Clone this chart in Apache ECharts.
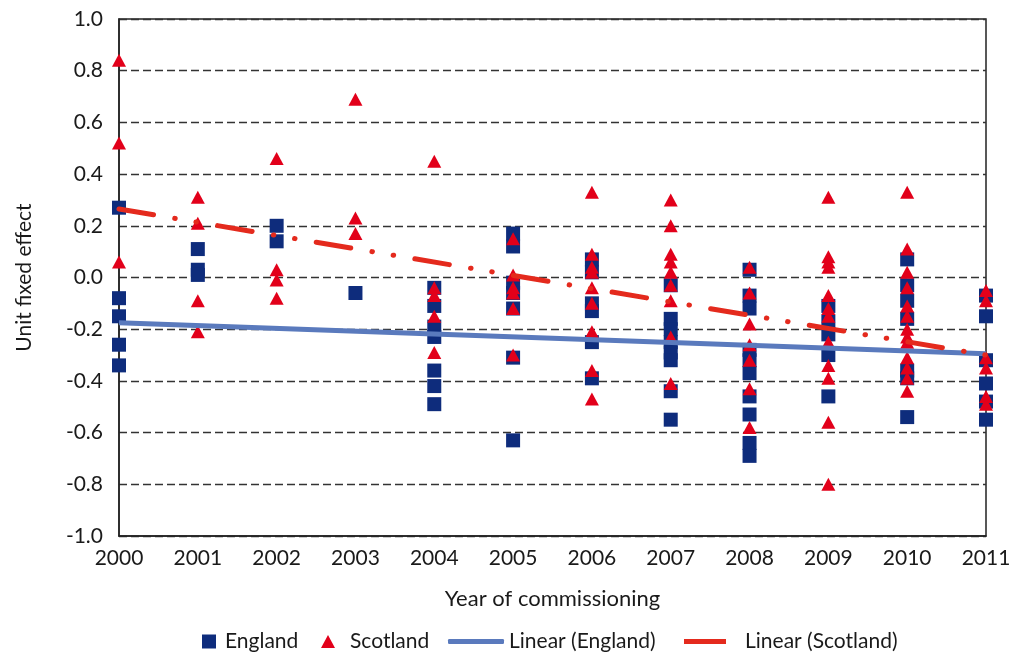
<!DOCTYPE html>
<html>
<head>
	<meta charset="utf-8">
	<title>Unit fixed effect by year of commissioning</title>
	<script src="https://cdn.jsdelivr.net/npm/echarts@6/dist/echarts.min.js"></script>
	<style type="text/css">
		html, body { margin: 0; padding: 0; background: #ffffff; }
		#chart { width: 1014px; height: 655px; }
	</style>
</head>
<body>
	<div id="chart"></div>
	<script type="text/javascript">
		// year of commissioning (x categories, plotted on a value axis)
		var years = [2000, 2001, 2002, 2003, 2004, 2005, 2006, 2007, 2008, 2009, 2010, 2011];
		// y tick labels
		var yTicks = [-1.0, -0.8, -0.6, -0.4, -0.2, 0.0, 0.2, 0.4, 0.6, 0.8, 1.0];

		// unit fixed effects per year, England (squares)
		var england = [
			[0.27, -0.08, -0.15, -0.26, -0.34],
			[0.11, 0.03, 0.01],
			[0.20, 0.14],
			[-0.06],
			[-0.04, -0.11, -0.19, -0.23, -0.36, -0.42, -0.49],
			[0.17, 0.12, -0.02, -0.06, -0.12, -0.31, -0.63],
			[0.07, 0.02, -0.10, -0.13, -0.25, -0.39],
			[-0.03, -0.16, -0.20, -0.25, -0.29, -0.32, -0.44, -0.55],
			[0.03, -0.07, -0.12, -0.28, -0.32, -0.37, -0.46, -0.53, -0.64, -0.69],
			[-0.11, -0.17, -0.22, -0.30, -0.46],
			[0.07, -0.03, -0.09, -0.16, -0.36, -0.39, -0.54],
			[-0.07, -0.15, -0.32, -0.41, -0.48, -0.55]
		];

		// unit fixed effects per year, Scotland (triangles)
		var scotland = [
			[0.84, 0.52, 0.06],
			[0.31, 0.21, -0.09, -0.21],
			[0.46, 0.03, -0.01, -0.08],
			[0.69, 0.23, 0.17],
			[0.45, -0.04, -0.07, -0.15, -0.29],
			[0.15, 0.01, -0.04, -0.06, -0.12, -0.30],
			[0.33, 0.09, 0.04, 0.02, -0.04, -0.10, -0.21, -0.36, -0.47],
			[0.30, 0.20, 0.09, 0.06, 0.02, -0.03, -0.09, -0.23, -0.41],
			[0.04, -0.06, -0.18, -0.26, -0.32, -0.43, -0.58],
			[0.31, 0.08, 0.06, 0.04, -0.07, -0.12, -0.15, -0.25, -0.34, -0.39, -0.56, -0.80],
			[0.33, 0.11, 0.02, -0.04, -0.11, -0.15, -0.20, -0.23, -0.25, -0.31, -0.35, -0.39, -0.44],
			[-0.05, -0.09, -0.31, -0.35, -0.46, -0.49]
		];

		// linear trend end points (at 2000 and 2011)
		var trendYears = [2000, 2011];
		var englandTrend = [-0.175, -0.295];
		var scotlandTrend = [0.265, -0.30];

		function toPoints(byYear) {
			var pts = [];
			for (var i = 0; i < years.length; i++) {
				for (var j = 0; j < byYear[i].length; j++) {
					pts.push([years[i], byYear[i][j]]);
				}
			}
			return pts;
		}
		function toLine(ys) {
			var pts = [];
			for (var i = 0; i < trendYears.length; i++) {
				pts.push([trendYears[i], ys[i]]);
			}
			return pts;
		}

		var FONT = 'Lato';
		var TXT = '#1a1a1a';
		var BLUE_DARK = '#0e2c7c';
		var RED = '#e2001a';
		var BLUE_LINE = '#5a7abd';
		var RED_LINE = '#e42a1d';

		var legendText = { fontFamily: FONT, fontSize: 21, color: TXT };
		var LEG_TOP = 626;

		var myChart = echarts.init(document.getElementById('chart'));
		var option = {
			animation: false,
			grid: {
				left: 119,
				right: 28,
				top: 19,
				bottom: 119,
				show: true,
				borderColor: '#222',
				borderWidth: 1.5
			},
			legend: [
				{
					data: [{ name: 'England', icon: 'rect' }],
					left: 197, top: LEG_TOP,
					itemWidth: 14, itemHeight: 14,
					textStyle: Object.assign({ padding: [0, 0, 0, 4] }, legendText)
				},
				{
					data: [{ name: 'Scotland', icon: 'triangle' }],
					left: 316, top: LEG_TOP,
					itemWidth: 14, itemHeight: 13,
					textStyle: Object.assign({ padding: [0, 0, 0, 10] }, legendText)
				},
				{
					data: [{ name: 'Linear (England)', icon: 'roundRect' }],
					left: 443, top: LEG_TOP,
					itemWidth: 56, itemHeight: 5,
					symbolKeepAspect: false,
					textStyle: Object.assign({ padding: [0, 0, 0, 0] }, legendText)
				},
				{
					data: [{ name: 'Linear (Scotland)', icon: 'path://M0,0H42V5H0Z' }],
					left: 679, top: LEG_TOP,
					itemWidth: 42, itemHeight: 5,
					symbolKeepAspect: false,
					itemStyle: { color: RED_LINE, borderWidth: 0, borderType: 'solid', opacity: 1 },
					lineStyle: { type: 'solid', width: 0 },
					textStyle: Object.assign({ padding: [0, 0, 0, 14] }, legendText)
				}
			],
			xAxis: {
				type: 'value',
				min: years[0],
				max: years[years.length - 1],
				interval: 1,
				name: 'Year of commissioning',
				nameLocation: 'middle',
				nameGap: 52,
				nameTextStyle: { fontFamily: FONT, fontSize: 22, color: TXT },
				axisLine: { show: true, onZero: false, lineStyle: { color: '#222', width: 1.5 } },
				axisTick: { show: false },
				splitLine: { show: false },
				axisLabel: {
					fontFamily: FONT, fontSize: 21, color: TXT, margin: 12,
					formatter: function (v) { return String(v); }
				}
			},
			yAxis: {
				type: 'value',
				min: yTicks[0],
				max: yTicks[yTicks.length - 1],
				interval: 0.2,
				name: 'Unit fixed effect',
				nameLocation: 'middle',
				nameGap: 84,
				nameTextStyle: { fontFamily: FONT, fontSize: 21, color: TXT },
				axisLine: { show: true, onZero: false, lineStyle: { color: '#222', width: 1.5 } },
				axisTick: { show: false },
				splitLine: { show: true, lineStyle: { color: '#333', width: 1.3, type: [8, 4] } },
				axisLabel: {
					fontFamily: FONT, fontSize: 21, color: TXT, margin: 16,
					formatter: function (v) {
						if (Math.abs(v) < 1e-9) return '0.0';
						return v.toFixed(1);
					}
				}
			},
			series: [
				{
					name: 'England',
					type: 'scatter',
					symbol: 'rect',
					symbolSize: 14,
					itemStyle: { color: BLUE_DARK, opacity: 1 },
					data: toPoints(england),
					z: 2
				},
				{
					name: 'Scotland',
					type: 'scatter',
					symbol: 'triangle',
					symbolSize: [14, 13],
					itemStyle: { color: RED, opacity: 1 },
					data: toPoints(scotland),
					z: 3
				},
				{
					name: 'Linear (England)',
					type: 'line',
					symbol: 'none',
					itemStyle: { color: BLUE_LINE },
					lineStyle: { color: BLUE_LINE, width: 5 },
					data: toLine(englandTrend),
					z: 4
				},
				{
					// legend entry only: solid key like the original
					name: 'Linear (Scotland)',
					type: 'line',
					symbol: 'none',
					itemStyle: { color: RED_LINE },
					lineStyle: { color: RED_LINE, width: 5 },
					data: []
				},
				{
					name: 'Scotland trend',
					type: 'line',
					symbol: 'none',
					itemStyle: { color: RED_LINE },
					lineStyle: {
						color: RED_LINE, width: 5, cap: 'round',
						type: [35, 21.5, 0.5, 21, 0.5, 21.5]
					},
					data: toLine(scotlandTrend),
					z: 5
				}
			]
		};
		myChart.setOption(option);
	</script>
</body>
</html>
